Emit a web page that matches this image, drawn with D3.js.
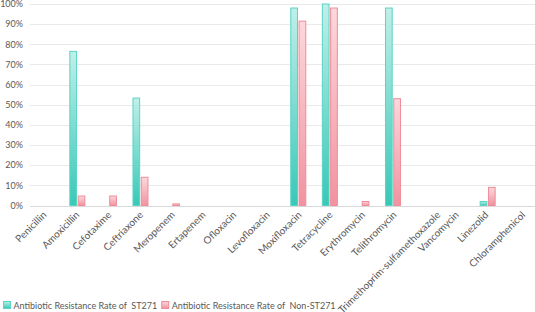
<!DOCTYPE html>
<html>
<head>
<meta charset="utf-8">
<script src="https://cdn.jsdelivr.net/npm/d3@7"></script>
<style>
  body { margin: 0; background: #fff; }
  svg { display: block; font-family: Lato, "Open Sans", sans-serif; }
</style>
</head>
<body>
<svg width="535" height="312"></svg>
<script>
var categories = ['Penicillin', 'Amoxicillin', 'Cefotaxime', 'Ceftriaxone', 'Meropenem', 'Ertapenem',
  'Ofloxacin', 'Levofloxacin', 'Moxifloxacin', 'Tetracycline', 'Erythromycin', 'Telithromycin',
  'Trimethoprim-sulfamethoxazole', 'Vancomycin', 'Linezolid', 'Chloramphenicol'];
var st271 = [0, 76.5, 0, 53.3, 0, 0, 0, 0, 98, 100, 0, 98, 0, 0, 2, 0];
var nonSt271 = [0, 4.7, 4.7, 14, 0.8, 0, 0, 0, 91.5, 98, 2, 53, 0, 0, 9, 0];
var seriesNames = ['Antibiotic Resistance Rate of  ST271', 'Antibiotic Resistance Rate of  Non-ST271'];
var yTicks = [0, 10, 20, 30, 40, 50, 60, 70, 80, 90, 100];

var svg = d3.select('svg');
var plotLeft = 30, plotRight = 535, plotTop = 4, plotBottom = 205.5;

var x = d3.scaleBand().domain(categories).range([plotLeft, plotRight]);
var x1 = d3.scaleBand().domain([0, 1]).range([-8, 8]).paddingInner(0.07);
var y = d3.scaleLinear().domain([0, 100]).range([plotBottom, plotTop]);

var defs = svg.append('defs');
var palettes = [
  { id: 'gTeal', top: '#c0efe8', bottom: '#38c8b7', stroke: '#5ad4c5' },
  { id: 'gPink', top: '#fcd8dc', bottom: '#f093a0', stroke: '#f08c99' }
];
palettes.forEach(function (p) {
  var g = defs.append('linearGradient').attr('id', p.id)
    .attr('x1', 0).attr('y1', 0).attr('x2', 0).attr('y2', 1);
  g.append('stop').attr('offset', '0%').attr('stop-color', p.top);
  g.append('stop').attr('offset', '100%').attr('stop-color', p.bottom);
});

// grid
svg.append('g').selectAll('line').data(yTicks).enter().append('line')
  .attr('x1', plotLeft).attr('x2', plotRight)
  .attr('y1', function (d) { return Math.round(y(d)) + 0.5; })
  .attr('y2', function (d) { return Math.round(y(d)) + 0.5; })
  .style('stroke', function (d) { return d === 0 ? '#d9d9d9' : '#e9e9e9'; })
  .style('stroke-width', 1);

// y labels
svg.append('g').selectAll('text').data(yTicks).enter().append('text')
  .attr('x', 23)
  .attr('y', function (d) { return y(d) + 3.2; })
  .attr('text-anchor', 'end')
  .style('font-size', '9px')
  .style('fill', '#595959')
  .text(function (d) { return d + '%'; });

// bars
[st271, nonSt271].forEach(function (vals, si) {
  var p = palettes[si];
  var rows = vals.map(function (v, i) { return { c: categories[i], v: v }; })
    .filter(function (d) { return d.v > 0; });
  svg.append('g').selectAll('rect').data(rows).enter().append('rect')
    .attr('x', function (d) { return x(d.c) + x.bandwidth() / 2 + x1(si) + 0.5; })
    .attr('width', x1.bandwidth() - 1)
    .attr('y', function (d) { return y(d.v); })
    .attr('height', function (d) { return plotBottom - y(d.v); })
    .style('fill', 'url(#' + p.id + ')')
    .style('stroke', p.stroke)
    .style('stroke-width', 1);
});

// x labels, rotated
var labels = svg.append('g').selectAll('text').data(categories).enter().append('text')
  .attr('text-anchor', 'end')
  .style('font-size', '10px')
  .style('fill', '#595959')
  .text(function (d) { return d; });
labels.attr('transform', function (d) {
  var w = this.getComputedTextLength();
  return 'translate(' + (x(d) + x.bandwidth() / 2 + 0.15 * w - 4.5) + ',215.5) rotate(-45)';
});

// legend
var legend = svg.append('g');
var lx = 3.5;
seriesNames.forEach(function (name, i) {
  legend.append('rect')
    .attr('x', lx).attr('y', 301.5).attr('width', 7).attr('height', 7)
    .style('fill', 'url(#' + palettes[i].id + ')')
    .style('stroke', palettes[i].stroke);
  var t = legend.append('text')
    .attr('x', lx + 10).attr('y', 308.5)
    .style('font-size', '9px')
    .style('fill', '#595959')
    .attr('xml:space', 'preserve')
    .text(name);
  lx = lx + 10 + t.node().getComputedTextLength() + 4.5;
});
</script>
</body>
</html>
